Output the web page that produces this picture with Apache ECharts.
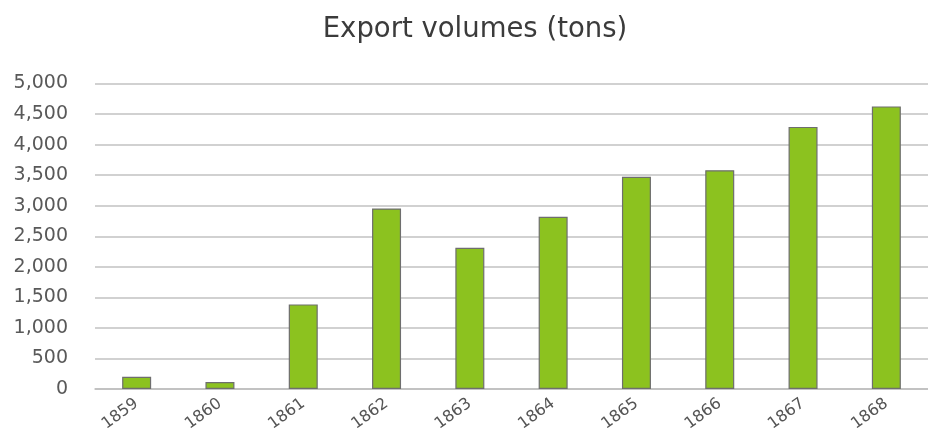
<!DOCTYPE html>
<html>
<head>
<meta charset="utf-8">
<script src="https://cdn.jsdelivr.net/npm/echarts@6/dist/echarts.min.js"></script>
<style>
  html, body { margin: 0; padding: 0; background: #fff; }
  #chart { width: 928px; height: 439px; }
</style>
</head>
<body>
<div id="chart"></div>
<script>
// Annual export volumes, in tons
const years = ['1859', '1860', '1861', '1862', '1863', '1864', '1865', '1866', '1867', '1868'];
const volumes = [200, 115, 1385, 2955, 2310, 2820, 3475, 3580, 4290, 4625];
const yTicks = { min: 0, max: 5000, interval: 500 };

const chart = echarts.init(document.getElementById('chart'));
chart.setOption({
  animation: false,
  backgroundColor: '#ffffff',
  title: {
    text: 'Export volumes (tons)',
    left: 470,
    top: 11,
    textAlign: 'center',
    textStyle: {
      fontFamily: 'DejaVu Sans',
      fontSize: 27.5,
      fontWeight: 'normal',
      color: '#3b3b3b'
    }
  },
  grid: { left: 95, top: 83.5, width: 840, bottom: 50, containLabel: false },
  xAxis: {
    type: 'category',
    data: years,
    axisLine: { show: true, lineStyle: { color: '#bdbdbd', width: 1.5 } },
    axisTick: { show: false },
    axisLabel: {
      rotate: 36,
      margin: 13,
      fontFamily: 'DejaVu Sans',
      fontSize: 16,
      color: '#555555'
    }
  },
  yAxis: {
    type: 'value',
    min: yTicks.min,
    max: yTicks.max,
    interval: yTicks.interval,
    axisLine: { show: false },
    axisTick: { show: false },
    splitLine: { lineStyle: { color: '#c2c2c2', width: 1.5 } },
    axisLabel: {
      margin: 27,
      fontFamily: 'DejaVu Sans',
      fontSize: 19,
      color: '#595959',
      formatter: v => v.toLocaleString('en-US')
    }
  },
  series: [{
    type: 'bar',
    data: volumes,
    barWidth: 29,
    itemStyle: { color: '#8cc21f', borderColor: '#6e6e6e', borderWidth: 1.2 }
  }]
});
</script>
</body>
</html>
